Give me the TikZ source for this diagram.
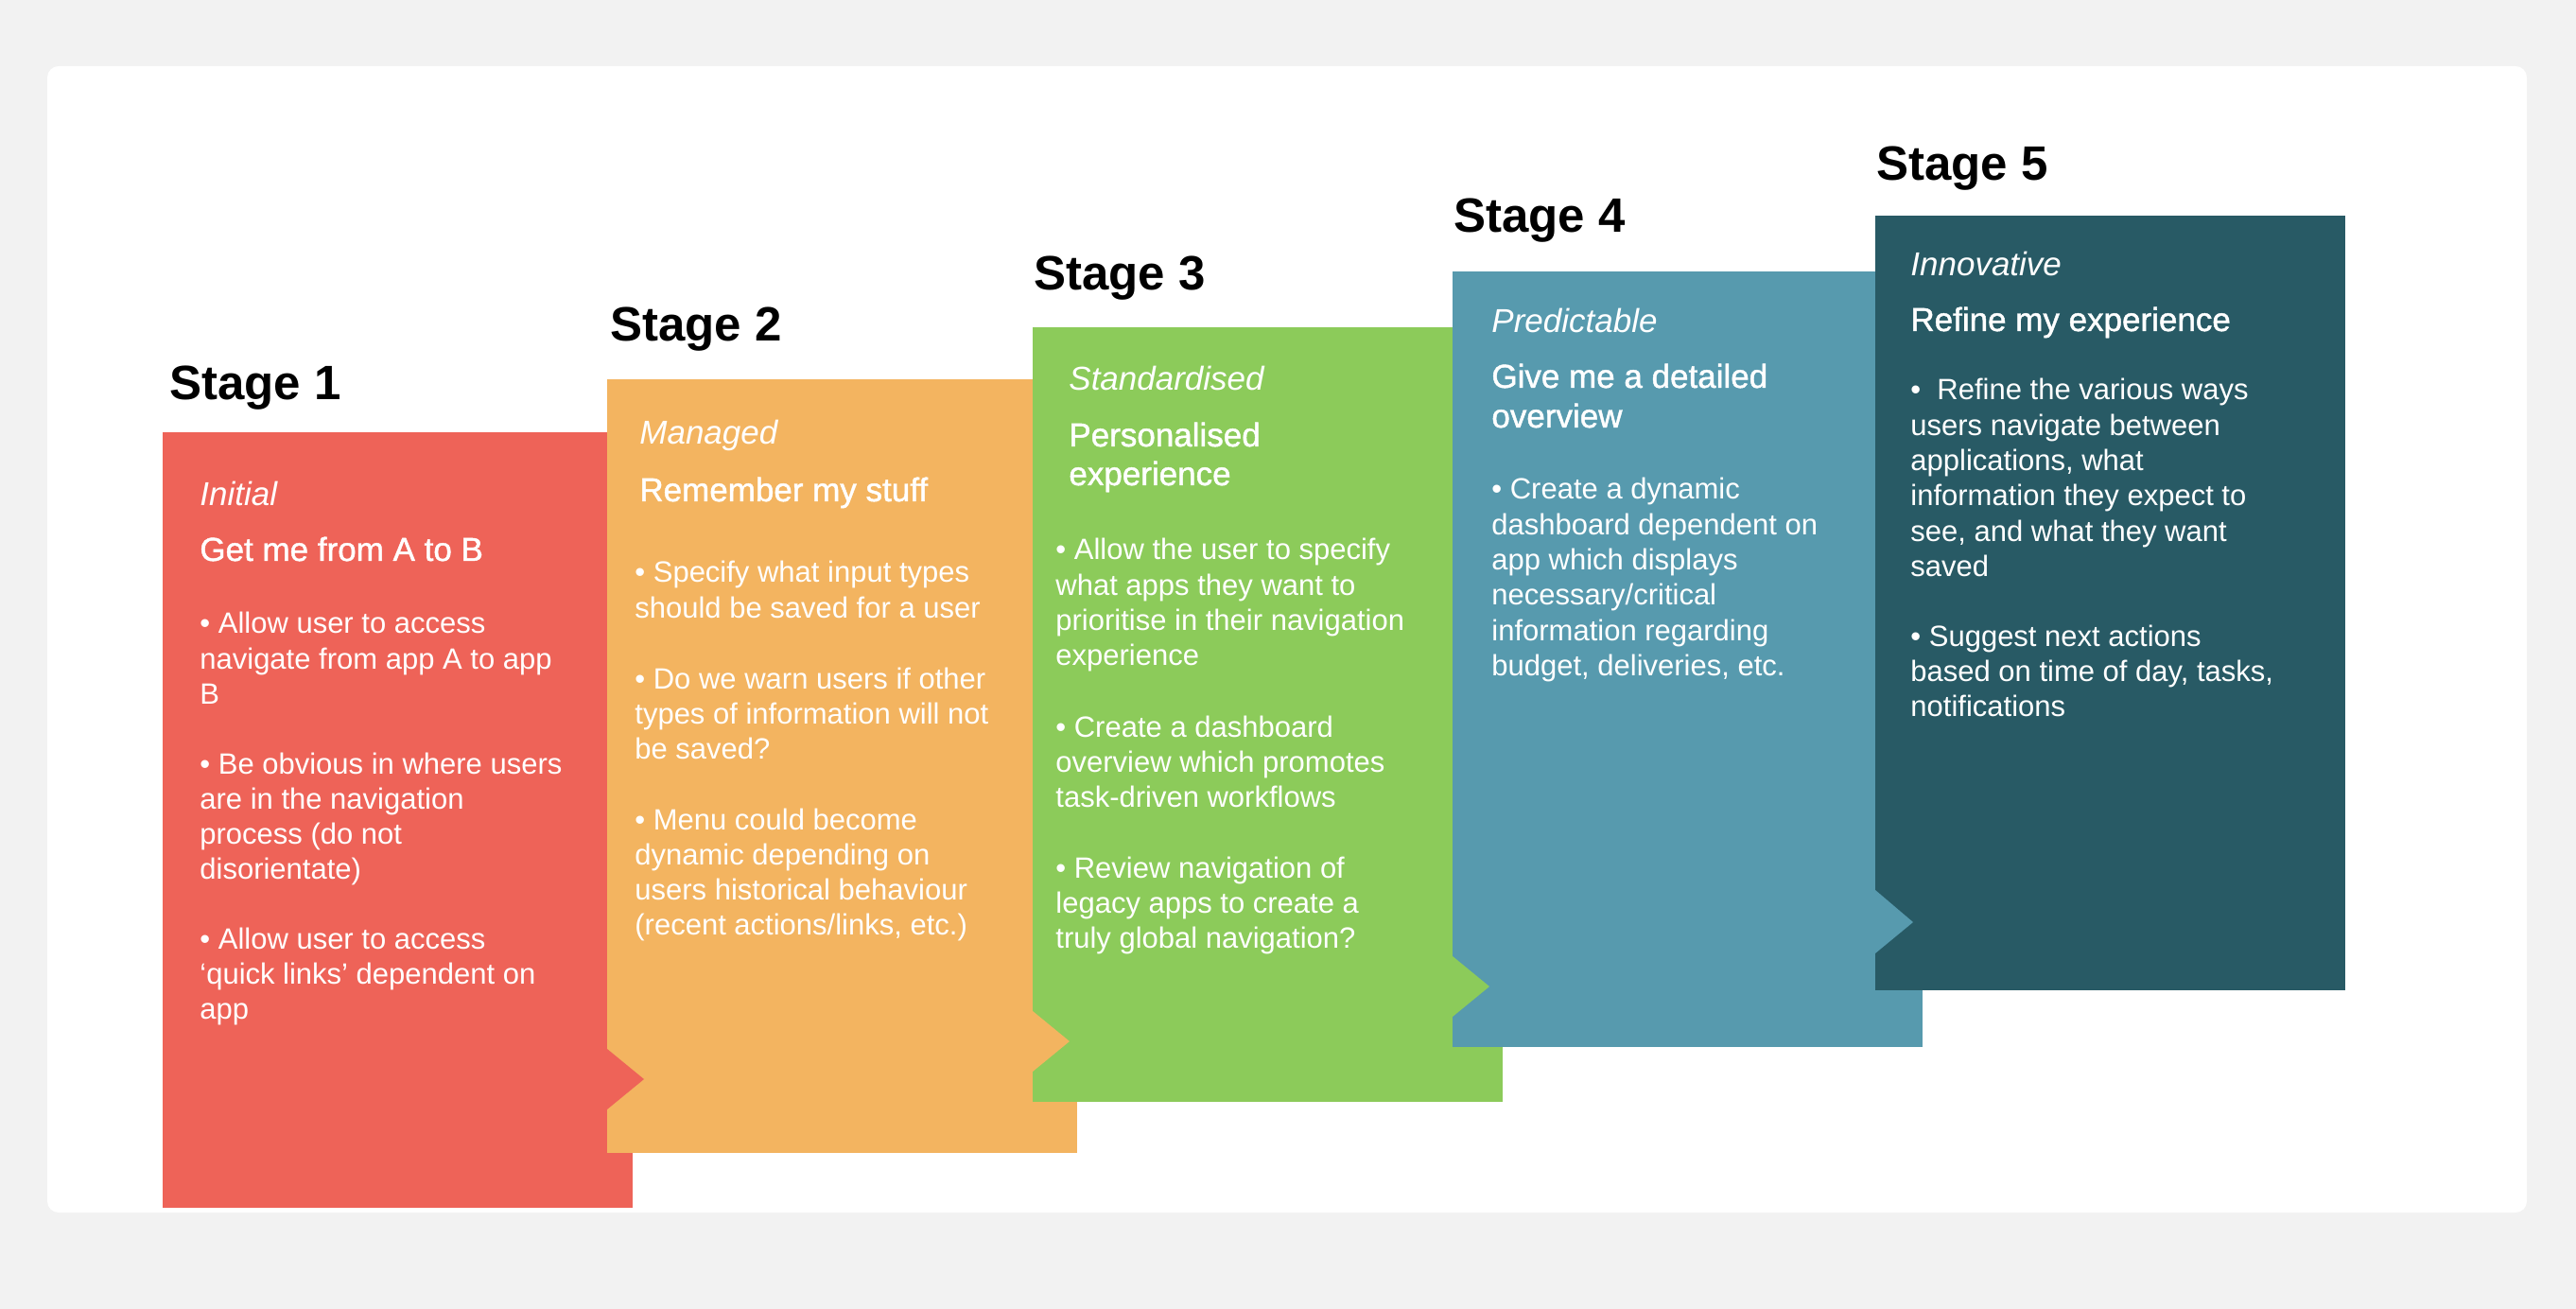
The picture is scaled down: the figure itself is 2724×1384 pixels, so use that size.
\documentclass[tikz,border=0pt]{standalone}
\usepackage{fontspec}
\setmainfont{Liberation Sans}
\newfontfamily\titlefont[FakeBold=1.3]{Liberation Sans}
\definecolor{bgc}{HTML}{F2F2F2}
\definecolor{cone}{HTML}{EE6358}
\definecolor{ctwo}{HTML}{F3B460}
\definecolor{cthree}{HTML}{8CCB5A}
\definecolor{cfour}{HTML}{579AAE}
\definecolor{cfive}{HTML}{285A65}
\newcommand\paralines[4]{%
  \foreach \ln [count=\i from 0] in {#4} {\node[body] (#1-\i) at (#2,{#3+\i*37.3}) {\ln};}}
\begin{document}
\begin{tikzpicture}[x=0.5pt,y=-0.5pt,
  stagelbl/.style={anchor=base west, inner sep=0pt, text=black, font=\fontsize{25.5}{30}\selectfont\bfseries},
  levellbl/.style={anchor=base west, inner sep=0pt, text=white, font=\fontsize{17.5}{21}\selectfont\itshape},
  headlbl/.style={anchor=base west, inner sep=0pt, text=white, font=\fontsize{17.5}{21}\titlefont},
  body/.style={anchor=base west, inner sep=0pt, text=white, font=\fontsize{15.5}{18.7}\selectfont}]
\useasboundingbox (0,0) rectangle (2724,1384);
\fill[bgc] (0,0) rectangle (2724,1384);
\fill[white, rounded corners=6pt] (50,70) rectangle (2672,1282);
% boxes and tabs
\fill[cone] (172,457) rectangle (669,1277);
\fill[ctwo] (642,401) rectangle (1139,1219);
\fill[cone] (642,1109) -- (681,1141) -- (642,1173) -- cycle;
\fill[cthree] (1092,346) rectangle (1589,1165);
\fill[ctwo] (1092,1069) -- (1131,1101) -- (1092,1133) -- cycle;
\fill[cfour] (1536,287) rectangle (2033,1107);
\fill[cthree] (1536,1011) -- (1575,1043) -- (1536,1075) -- cycle;
\fill[cfive] (1983,228) rectangle (2480,1047);
\fill[cfour] (1983,941) -- (2023,975) -- (1983,1008) -- cycle;
% stage labels
\node[stagelbl] (s1) at (179,423) {Stage 1};
\node[stagelbl] (s2) at (645,361) {Stage 2};
\node[stagelbl] (s3) at (1093,307) {Stage 3};
\node[stagelbl] (s4) at (1537,246) {Stage 4};
\node[stagelbl] (s5) at (1984,191) {Stage 5};
% box 1
\node[levellbl] (l1) at (211,535) {Initial};
\node[headlbl] (h1) at (211,593) {Get me from A to B};
\paralines{pa}{211}{670}{• Allow user to access, navigate from app A to app, B}
\paralines{pb}{211}{818}{• Be obvious in where users, are in the navigation, process (do not, disorientate)}
\paralines{pc}{211}{1003}{• Allow user to access, ‘quick links’ dependent on, app}
% box 2
\node[levellbl] (l2) at (676,470) {Managed};
\node[headlbl] (h2) at (676,530) {Remember my stuff};
\paralines{pd}{671}{616}{• Specify what input types, should be saved for a user}
\paralines{pe}{671}{728}{• Do we warn users if other, types of information will not, be saved?}
\paralines{pf}{671}{877}{• Menu could become, dynamic depending on, users historical behaviour, {(recent actions/links, etc.)}}
% box 3
\node[levellbl] (l3) at (1130,413) {Standardised};
\node[headlbl] (h3a) at (1130,472) {Personalised};
\node[headlbl] (h3b) at (1130,513) {experience};
\paralines{pg}{1116}{592}{• Allow the user to specify, what apps they want to, prioritise in their navigation, experience}
\paralines{ph}{1116}{779}{• Create a dashboard, overview which promotes, task-driven workflows}
\paralines{pi}{1116}{928}{• Review navigation of, legacy apps to create a, truly global navigation?}
% box 4
\node[levellbl] (l4) at (1577,352) {Predictable};
\node[headlbl] (h4a) at (1577,410) {Give me a detailed};
\node[headlbl] (h4b) at (1577,452) {overview};
\paralines{pj}{1577}{528}{• Create a dynamic, dashboard dependent on, app which displays, necessary/critical, information regarding, {budget, deliveries, etc.}}
% box 5
\node[levellbl] (l5) at (2020,292) {Innovative};
\node[headlbl] (h5) at (2020,350) {Refine my experience};
\paralines{pk}{2020}{423}{•\ \ Refine the various ways, users navigate between, {applications, what}, information they expect to, {see, and what they want}, saved}
\paralines{pl}{2020}{683}{• Suggest next actions, {based on time of day, tasks,}, notifications}
\end{tikzpicture}
\end{document}
